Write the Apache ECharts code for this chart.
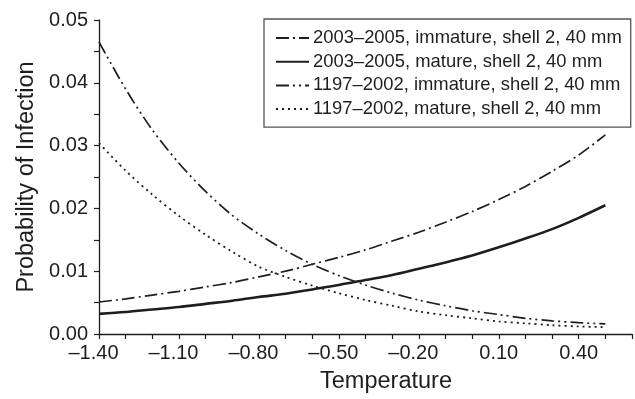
<!DOCTYPE html>
<html>
<head>
<meta charset="utf-8">
<script src="https://cdn.jsdelivr.net/npm/echarts@6/dist/echarts.min.js"></script>
<style>
  html, body { margin: 0; padding: 0; background: #fff; }
  #chart { width: 635px; height: 399px; }
</style>
</head>
<body>
<div id="chart"></div>
<script>
// Temperature grid (x) and infection probabilities for each group
var temperature = [-1.4, -1.3, -1.2, -1.1, -1.0, -0.9, -0.8, -0.7, -0.6, -0.5,
                   -0.4, -0.3, -0.2, -0.1, 0.0, 0.1, 0.2, 0.3, 0.4, 0.5];

var immature2003 = [0.0051, 0.0056, 0.0062, 0.0068, 0.0075, 0.0082, 0.0091, 0.0100, 0.0111, 0.0122,
                    0.0134, 0.0148, 0.0162, 0.0178, 0.0195, 0.0214, 0.0235, 0.0259, 0.0285, 0.0317];
var mature2003   = [0.0032, 0.0035, 0.0039, 0.0043, 0.0048, 0.0053, 0.0059, 0.0064, 0.0071, 0.0078,
                    0.0086, 0.0094, 0.0104, 0.0114, 0.0125, 0.0138, 0.0152, 0.0167, 0.0185, 0.0205];
var immature1197 = [0.0465, 0.0390, 0.0325, 0.0272, 0.0227, 0.0189, 0.0159, 0.0133, 0.0111, 0.0093,
                    0.0078, 0.0065, 0.0054, 0.0045, 0.0037, 0.0031, 0.0025, 0.0021, 0.0018, 0.0016];
var mature1197   = [0.0304, 0.0260, 0.0222, 0.0188, 0.0158, 0.0131, 0.0107, 0.0091, 0.0077, 0.0065,
                    0.0054, 0.0045, 0.0036, 0.0030, 0.0025, 0.0020, 0.0017, 0.0014, 0.0012, 0.0011];

var seriesNames = [
  '2003\u20132005, immature, shell 2, 40 mm',
  '2003\u20132005, mature, shell 2, 40 mm',
  '1197\u20132002, immature, shell 2, 40 mm',
  '1197\u20132002, mature, shell 2, 40 mm'
];

var FONT = '"Liberation Sans", Arial, Helvetica, sans-serif';
var INK = '#1e1e1e';

function pairs(ys) {
  return temperature.map(function (t, i) { return [t, ys[i]]; });
}

function lineSeries(name, ys, width, dash) {
  return {
    name: name,
    type: 'line',
    data: pairs(ys),
    symbol: 'none',
    smooth: 0.3,
    silent: true,
    lineStyle: { color: INK, width: width, type: dash },
    itemStyle: { color: INK },
    emphasis: { disabled: true }
  };
}

var chart = echarts.init(document.getElementById('chart'), null, { renderer: 'canvas' });

chart.setOption({
  animation: false,
  backgroundColor: '#fff',
  grid: { left: 99, top: 20, right: 1, bottom: 59, containLabel: false },
  legend: {
    orient: 'vertical',
    left: 264,
    top: 19,
    padding: [10, 9, 9, 11],
    itemWidth: 33,
    itemHeight: 18,
    itemGap: 5.7,
    borderColor: '#555',
    borderWidth: 1.3,
    backgroundColor: '#fff',
    selectedMode: false,
    // line-only keys: hide the marker symbol, keep each series' stroke
    itemStyle: { opacity: 0 },
    textStyle: { fontFamily: FONT, fontSize: 18.4, color: INK, lineHeight: 18, padding: [0, 0, 0, -1] },
    data: seriesNames
  },
  xAxis: {
    type: 'value',
    min: -1.4,
    max: 0.6,
    interval: 0.1,
    name: 'Temperature',
    nameLocation: 'middle',
    nameGap: 36,
    nameTextStyle: { fontFamily: FONT, fontSize: 23.5, color: INK, padding: [0, 0, 0, 41] },
    axisLine: { onZero: false, lineStyle: { color: INK, width: 1.3 } },
    axisTick: { show: true, inside: false, length: 5, lineStyle: { color: INK, width: 1.2 } },
    splitLine: { show: false },
    axisLabel: {
      margin: 9,
      fontFamily: FONT,
      fontSize: 20,
      color: INK,
      formatter: function (v) {
        var k = Math.round((v + 1.4) * 10);
        if (k % 3 !== 0) return '';
        var s = Math.abs(v).toFixed(2);
        return v < -1e-9 ? '{neg|\u2013' + s + '}' : s;
      },
      rich: { neg: { fontFamily: FONT, fontSize: 20, color: INK, padding: [0, 11, 0, 0] } }
    }
  },
  yAxis: {
    type: 'value',
    min: 0,
    max: 0.05,
    interval: 0.005,
    name: 'Probability of Infection',
    nameLocation: 'middle',
    nameGap: 60,
    nameTextStyle: { fontFamily: FONT, fontSize: 23.5, color: INK },
    axisLine: { show: true, onZero: false, lineStyle: { color: INK, width: 1.3 } },
    axisTick: { show: true, inside: false, length: 5, lineStyle: { color: INK, width: 1.2 } },
    splitLine: { show: false },
    axisLabel: {
      margin: 11,
      fontFamily: FONT,
      fontSize: 20,
      color: INK,
      formatter: function (v) {
        var k = Math.round(v * 1000);
        return k % 10 === 0 ? v.toFixed(2) : '';
      }
    }
  },
  series: [
    lineSeries(seriesNames[0], immature2003, 1.7, [13, 4, 2, 4]),
    lineSeries(seriesNames[1], mature2003, 2.6, 'solid'),
    lineSeries(seriesNames[2], immature1197, 1.7, [13, 4, 2, 4, 2, 4]),
    lineSeries(seriesNames[3], mature1197, 1.8, [2, 4])
  ]
});
</script>
</body>
</html>
